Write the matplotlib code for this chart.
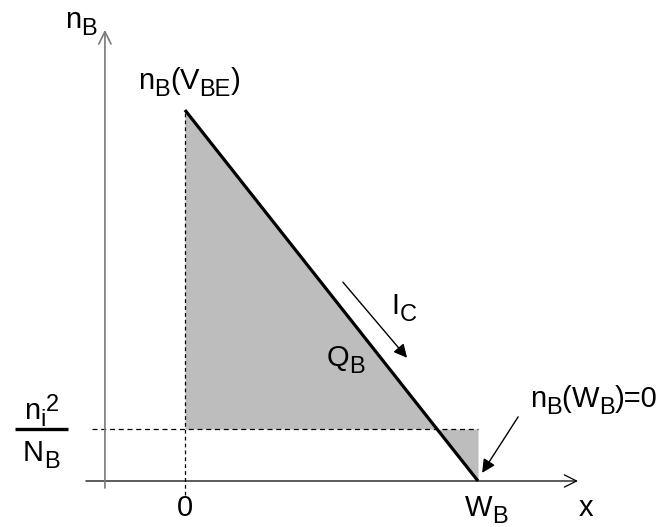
import matplotlib
matplotlib.use("Agg")
import matplotlib.pyplot as plt
import matplotlib.transforms as mtransforms
import numpy as np

plt.rcParams['font.family'] = ['Liberation Sans', 'DejaVu Sans']

# Minority-carrier profile across the base
x_pos = [0.0, 1.0]          # emitter edge (0) and collector edge (W_B)
n_B = [1.0, 0.0]            # n_B(V_BE) normalised, n_B(W_B)=0
n_eq = 0.14                 # n_i^2 / N_B level

fig = plt.figure(figsize=(6.65, 5.27), dpi=100)
ax = fig.add_axes([0, 0, 1, 1])
ax.set_xlim(-0.631, 1.638)
ax.set_ylim(-0.124, 1.2965)
ax.axis('off')
renderer = fig.canvas.get_renderer()

FS = 21      # main glyph size
SS = 17      # sub/superscript size
SUB = -7     # subscript drop (pixels)
SUP = 8      # superscript rise (pixels)


def rich(x, y, segs, ha='left'):
    """Draw a run of (text, size, dy) pieces on one baseline."""
    widths = []
    for s, size, dy in segs:
        t = ax.text(0, 0, s, fontsize=size)
        widths.append(t.get_window_extent(renderer).width)
        t.remove()
    total = sum(widths)
    off = {'left': 0.0, 'center': -total / 2, 'right': -total}[ha]
    for (s, size, dy), w in zip(segs, widths):
        tr = mtransforms.offset_copy(ax.transData, fig=fig, x=off, y=dy, units='dots')
        ax.text(x, y, s, fontsize=size, transform=tr, ha='left', va='baseline')
        off += w


def sub(s):
    return (s, SS, SUB)


def main(s):
    return (s, FS, 0)


# Coordinate axes with open arrowheads
ax.annotate('', xy=(1.341, 0.0), xytext=(-0.338, 0.0),
            arrowprops=dict(arrowstyle='->', color='black', lw=0.9,
                            mutation_scale=22, shrinkA=0, shrinkB=0))
ax.annotate('', xy=(-0.273, 1.216), xytext=(-0.273, -0.019),
            arrowprops=dict(arrowstyle='->', color='#7a7a7a', lw=1.2,
                            mutation_scale=22, shrinkA=0, shrinkB=0))

# Stored charge Q_B (shaded)
xs = np.array(x_pos)
ax.fill_between(xs, n_B, n_eq, color='#bdbdbd', lw=0, zorder=1)

# Dashed guide lines
ax.plot([x_pos[0], x_pos[0]], [-0.038, n_B[0]], ls=(0, (3, 2.5)), color='black', lw=0.9, zorder=2)
ax.plot([-0.317, x_pos[1]], [n_eq, n_eq], ls=(0, (4, 3)), color='black', lw=0.9, zorder=2)

# Carrier profile
ax.plot(x_pos, n_B, color='black', lw=2.3, zorder=3, solid_capstyle='butt')

# Labels
rich(-0.300, 1.221, [main('n'), sub('B')], ha='right')
rich(0.014, 1.057, [main('n'), sub('B'), main('('), main('V'), sub('BE'), main(')')], ha='center')
rich(0.548, 0.31, [main('Q'), sub('B')], ha='center')
rich(0.706, 0.450, [main('I'), sub('C')], ha='left')
rich(1.177, 0.199, [main('n'), sub('B'), main('('), main('W'), sub('B'), main(')=0')], ha='left')

# Fraction n_i^2 / N_B
rich(-0.49, 0.166, [main('n'), sub('i'), ('2', SS, SUP)], ha='center')
ax.plot([-0.580, -0.399], [n_eq, n_eq], color='black', lw=2.4, solid_capstyle='butt')
rich(-0.49, 0.055, [main('N'), sub('B')], ha='center')

# Tick labels on the x axis
rich(x_pos[0], -0.095, [main('0')], ha='center')
rich(0.956, -0.095, [main('W'), sub('B')], ha='left')
rich(1.369, -0.095, [main('x')], ha='center')

# Current direction arrow
ax.annotate('', xy=(0.758, 0.332), xytext=(0.539, 0.536),
            arrowprops=dict(arrowstyle='-|>', color='black', lw=1.0,
                            mutation_scale=20, shrinkA=0, shrinkB=0))
# Pointer to the boundary condition
ax.annotate('', xy=(1.014, 0.022), xytext=(1.137, 0.173),
            arrowprops=dict(arrowstyle='-|>', color='black', lw=1.0,
                            mutation_scale=20, shrinkA=0, shrinkB=0))

fig.savefig('out.png', dpi=100)
